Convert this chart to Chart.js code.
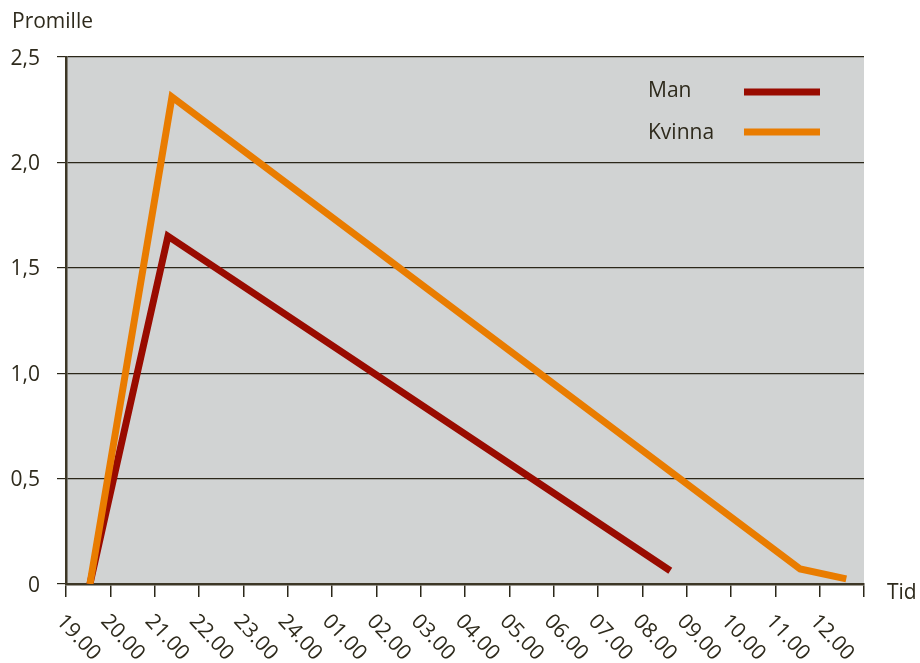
<!DOCTYPE html>
<html>
<head>
<meta charset="utf-8">
<script src="https://cdn.jsdelivr.net/npm/chart.js@4.4.1/dist/chart.umd.min.js"></script>
<style>
  body { margin: 0; background: #fff; }
  canvas { display: block; }
</style>
</head>
<body>
<canvas id="myChart" width="920" height="663"></canvas>
<script>
// hours after midnight are written as 24 + h
const manHours = [19.54, 21.3, 32.63];
const manValues = [0, 1.65, 0.063];
const kvinnaHours = [19.54, 21.39, 35.56, 36.6];
const kvinnaValues = [0, 2.31, 0.071, 0.024];

const xTickLabels = ["19.00", "20.00", "21.00", "22.00", "23.00", "24.00", "01.00", "02.00", "03.00",
  "04.00", "05.00", "06.00", "07.00", "08.00", "09.00", "10.00", "11.00", "12.00"];
const yTickValues = [2.5, 2.0, 1.5, 1.0, 0.5, 0];
const yTickLabels = ["2,5", "2,0", "1,5", "1,0", "0,5", "0"];

const textColor = "#2e2a1c";
const lineColor = "#2b2719";
const manColor = "#990b00";
const kvinnaColor = "#e97c00";
const font = "21px 'Open Sans', sans-serif";

const toPoints = (xs, ys) => xs.map((x, i) => ({ x: x, y: ys[i] }));

const decorPlugin = {
  id: "decor",
  beforeDraw: (chart) => {
    const { ctx, chartArea } = chart;
    ctx.save();
    ctx.fillStyle = "#d1d3d3";
    ctx.fillRect(chartArea.left, chartArea.top, chartArea.right - chartArea.left, chartArea.bottom - chartArea.top);
    ctx.restore();
  },
  afterDraw: (chart) => {
    const { ctx } = chart;
    const xScale = chart.scales.x;
    const yScale = chart.scales.y;
    ctx.save();
    ctx.fillStyle = textColor;
    ctx.font = font;

    // y labels
    ctx.textAlign = "right";
    ctx.textBaseline = "alphabetic";
    yTickValues.forEach((v, i) => {
      ctx.fillText(yTickLabels[i], 40, yScale.getPixelForValue(v) + 7.5);
    });

    // rotated x labels
    ctx.textAlign = "left";
    ctx.textBaseline = "middle";
    xTickLabels.forEach((label, i) => {
      const px = xScale.getPixelForValue(19 + i);
      ctx.save();
      ctx.translate(px - 6, 618);
      ctx.rotate((47 * Math.PI) / 180);
      ctx.fillText(label, 0, 0);
      ctx.restore();
    });

    // titles
    ctx.textBaseline = "alphabetic";
    ctx.fillText("Promille", 12, 28);
    ctx.fillText("Tid", 887, 599);

    // legend
    ctx.fillText("Man", 648, 97);
    ctx.fillText("Kvinna", 648, 139);
    ctx.lineWidth = 7;
    ctx.lineCap = "butt";
    ctx.strokeStyle = manColor;
    ctx.beginPath();
    ctx.moveTo(744, 92);
    ctx.lineTo(820, 92);
    ctx.stroke();
    ctx.strokeStyle = kvinnaColor;
    ctx.beginPath();
    ctx.moveTo(744, 132);
    ctx.lineTo(820, 132);
    ctx.stroke();
    ctx.restore();
  },
};

const data = {
  datasets: [
    {
      label: "Man",
      data: toPoints(manHours, manValues),
      borderColor: manColor,
      borderWidth: 7,
      order: 1,
    },
    {
      label: "Kvinna",
      data: toPoints(kvinnaHours, kvinnaValues),
      borderColor: kvinnaColor,
      borderWidth: 7,
      order: 0,
    },
  ],
};

const config = {
  type: "line",
  data: data,
  options: {
    responsive: false,
    animation: false,
    devicePixelRatio: 1,
    layout: {
      padding: { left: 57, right: 56, top: 57, bottom: 66 },
    },
    elements: {
      point: { radius: 0 },
      line: { tension: 0, borderCapStyle: "butt", borderJoinStyle: "miter", fill: false },
    },
    datasets: {
      line: { clip: 0 },
    },
    plugins: {
      legend: { display: false },
      tooltip: { enabled: false },
    },
    scales: {
      x: {
        type: "linear",
        min: 19,
        max: 37,
        ticks: { display: false, stepSize: 1 },
        grid: {
          drawOnChartArea: false,
          drawTicks: true,
          tickLength: 13,
          color: lineColor,
          lineWidth: 1.5,
        },
        border: { display: true, color: "#3d3726", width: 2.5 },
      },
      y: {
        min: 0,
        max: 2.5,
        ticks: { display: false, stepSize: 0.5 },
        grid: {
          drawTicks: true,
          tickLength: 9,
          color: lineColor,
          lineWidth: 1.2,
        },
        border: { display: true, color: "#3d3726", width: 2.5 },
      },
    },
  },
  plugins: [decorPlugin],
};

const ctx = document.getElementById("myChart").getContext("2d");
const myChart = new Chart(ctx, config);
</script>
</body>
</html>
